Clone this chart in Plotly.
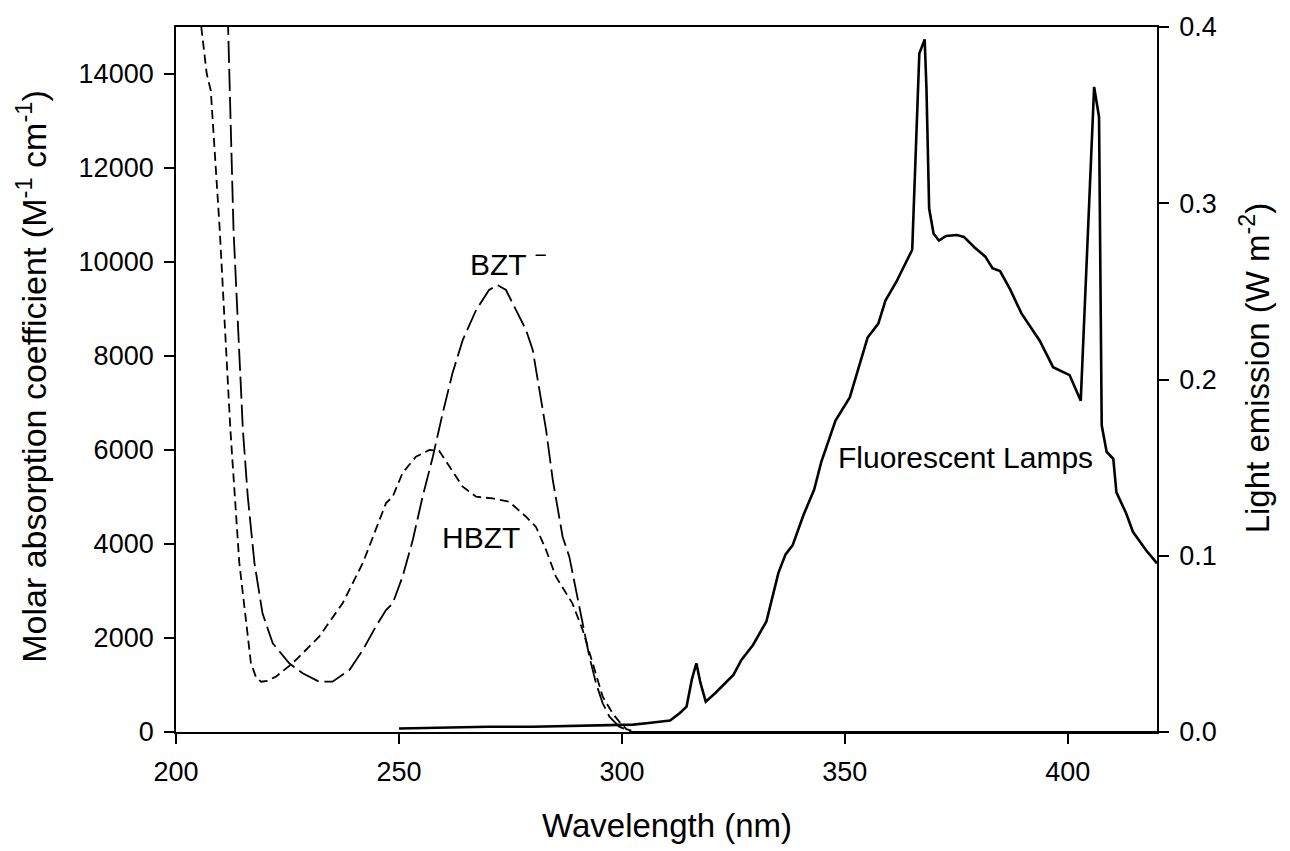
import plotly.graph_objects as go

# ---- HBZT (short dashes), molar absorption coefficient ----
hbzt_wl = [205.3, 206.9, 207.8, 209.8, 212.2, 214.2, 216.8, 218.0, 219.1, 220.5, 222.4,
           226.2, 232.1, 237.4, 241.9, 245.6, 247.1, 248.6, 250.8, 253.8, 256.8, 259.0,
           261.3, 264.3, 267.3, 271.0, 274.7, 278.5, 280.7, 283.0, 285.2, 287.4, 288.9,
           291.2, 293.4, 295.7, 297.9, 299.4, 301.0, 303.0, 420.0]
hbzt_eps = [15300, 14000, 13650, 10700, 6425, 3596, 1468, 1150, 1070, 1090, 1177,
            1468, 2028, 2745, 3596, 4510, 4870, 5006, 5510, 5857, 6000, 5985,
            5645, 5219, 5006, 4970, 4900, 4580, 4368, 3872, 3304, 2950, 2738,
            2170, 1461, 751, 398, 220, 60, 0, 0]

# ---- BZT- (long dashes) ----
bzt_wl = [211.6, 212.9, 215.0, 216.1, 217.6, 219.4, 221.7, 225.4, 228.4, 232.1, 235.1,
          238.9, 241.9, 244.8, 247.1, 248.6, 250.8, 253.1, 255.3, 257.6, 259.8, 262.0,
          264.3, 267.3, 270.2, 272.1, 274.0, 276.2, 278.5, 280.0, 281.5, 283.0, 284.5,
          286.7, 288.2, 289.7, 291.2, 292.7, 294.2, 295.7, 297.2, 299.4, 302.0, 420.0]
bzt_eps = [15300, 10680, 6425, 5006, 3589, 2525, 1887, 1461, 1248, 1070, 1070,
           1319, 1745, 2241, 2596, 2738, 3304, 4085, 5006, 5857, 6780, 7631,
           8340, 8979, 9404, 9510, 9404, 8979, 8553, 8128, 7277, 6425, 5362,
           4156, 3730, 3021, 2312, 1603, 1035, 610, 326, 113, 0, 0]

# ---- Fluorescent lamp emission (W m-2), right axis ----
lamp_wl = [250.0, 260.0, 270.0, 280.0, 290.0, 300.0, 302.5, 305.5, 308.5, 310.8, 313.0,
           314.5, 315.7, 316.7, 317.6, 318.8, 320.9, 323.5, 325.0, 326.8, 329.4, 332.4,
           333.6, 335.1, 336.7, 338.3, 340.7, 343.1, 344.7, 347.9, 351.1, 352.7, 355.1,
           357.5, 359.1, 361.5, 363.1, 365.1, 366.7, 367.9, 368.3, 368.9, 369.9, 371.1,
           372.7, 375.1, 376.7, 379.1, 381.5, 383.1, 384.8, 387.1, 389.6, 393.7, 396.7,
           400.4, 402.9, 405.9, 407.0, 407.6, 408.7, 410.2, 410.9, 413.1, 414.6, 417.6,
           420.0]
lamp_em = [0.002, 0.0025, 0.003, 0.003, 0.0035, 0.004, 0.0042, 0.005, 0.0058, 0.0065, 0.0108,
           0.0144, 0.030, 0.039, 0.028, 0.0172, 0.022, 0.0286, 0.0324, 0.0409, 0.0494, 0.0627,
           0.075, 0.0903, 0.1008, 0.1060, 0.1230, 0.1374, 0.1531, 0.1767, 0.1898, 0.2029, 0.2238,
           0.2317, 0.2448, 0.2552, 0.2631, 0.2736, 0.385, 0.393, 0.365, 0.297, 0.2827, 0.2788,
           0.2814, 0.2820, 0.2809, 0.2749, 0.2697, 0.2631, 0.2615, 0.251, 0.2375, 0.222, 0.207,
           0.2025, 0.188, 0.366, 0.349, 0.174, 0.159, 0.155, 0.136, 0.124, 0.1136, 0.103,
           0.0957]

x_ticks = [200, 250, 300, 350, 400]
y_ticks = [0, 2000, 4000, 6000, 8000, 10000, 12000, 14000]
y2_ticks = [0.0, 0.1, 0.2, 0.3, 0.4]

FONT = "Liberation Sans, Arial, Helvetica, sans-serif"

fig = go.Figure()
fig.add_trace(go.Scatter(x=hbzt_wl, y=hbzt_eps, mode="lines", name="HBZT",
                         line=dict(color="black", width=1.8, dash="9px,5px")))
fig.add_trace(go.Scatter(x=bzt_wl, y=bzt_eps, mode="lines", name="BZT-",
                         line=dict(color="black", width=1.8, dash="22px,6px")))
fig.add_trace(go.Scatter(x=lamp_wl, y=lamp_em, mode="lines", name="Fluorescent Lamps",
                         yaxis="y2", line=dict(color="black", width=2.6)))

axis_common = dict(showgrid=False, zeroline=False, showline=True, linecolor="black",
                   linewidth=1.8, ticks="outside", ticklen=10, tickwidth=1.6,
                   tickcolor="black", tickfont=dict(family=FONT, size=27, color="black"))

fig.update_layout(
    width=1290, height=851,
    margin=dict(l=176, r=133, t=27, b=119),
    paper_bgcolor="white", plot_bgcolor="white",
    showlegend=False,
    font=dict(family=FONT, color="black"),
    xaxis=dict(range=[200, 420], tickvals=x_ticks, mirror=True, ticklabelstandoff=5,
               tickformat="d", **axis_common),
    yaxis=dict(range=[0, 15000], tickvals=y_ticks, ticklabelstandoff=5, tickformat="d",
               **axis_common),
    yaxis2=dict(range=[0, 0.4], tickvals=y2_ticks, tickformat=".1f", overlaying="y",
                side="right", ticklabelstandoff=5, **axis_common),
    annotations=[
        dict(text="Wavelength (nm)", xref="paper", yref="paper", x=0.5, y=-0.132,
             xanchor="center", yanchor="middle", showarrow=False,
             font=dict(family=FONT, size=33)),
        dict(text="Molar absorption coefficient (M<sup>-1</sup> cm<sup>-1</sup>)",
             xref="paper", yref="paper", x=-0.147, y=0.505, textangle=-90,
             xanchor="center", yanchor="middle", showarrow=False,
             font=dict(family=FONT, size=34)),
        dict(text="Light emission (W m<sup>-2</sup>)",
             xref="paper", yref="paper", x=1.100, y=0.516, textangle=-90,
             xanchor="center", yanchor="middle", showarrow=False,
             font=dict(family=FONT, size=33)),
        dict(text="BZT <sup>\u2212</sup>", xref="x", yref="y", x=274.6, y=9990,
             xanchor="center", yanchor="middle", showarrow=False,
             font=dict(family=FONT, size=30)),
        dict(text="HBZT", xref="x", yref="y", x=268.5, y=4149,
             xanchor="center", yanchor="middle", showarrow=False,
             font=dict(family=FONT, size=30)),
        dict(text="Fluorescent Lamps", xref="x", yref="y2", x=377.1, y=0.1557,
             xanchor="center", yanchor="middle", showarrow=False,
             font=dict(family=FONT, size=30)),
    ],
)

fig.write_html("out.html")
